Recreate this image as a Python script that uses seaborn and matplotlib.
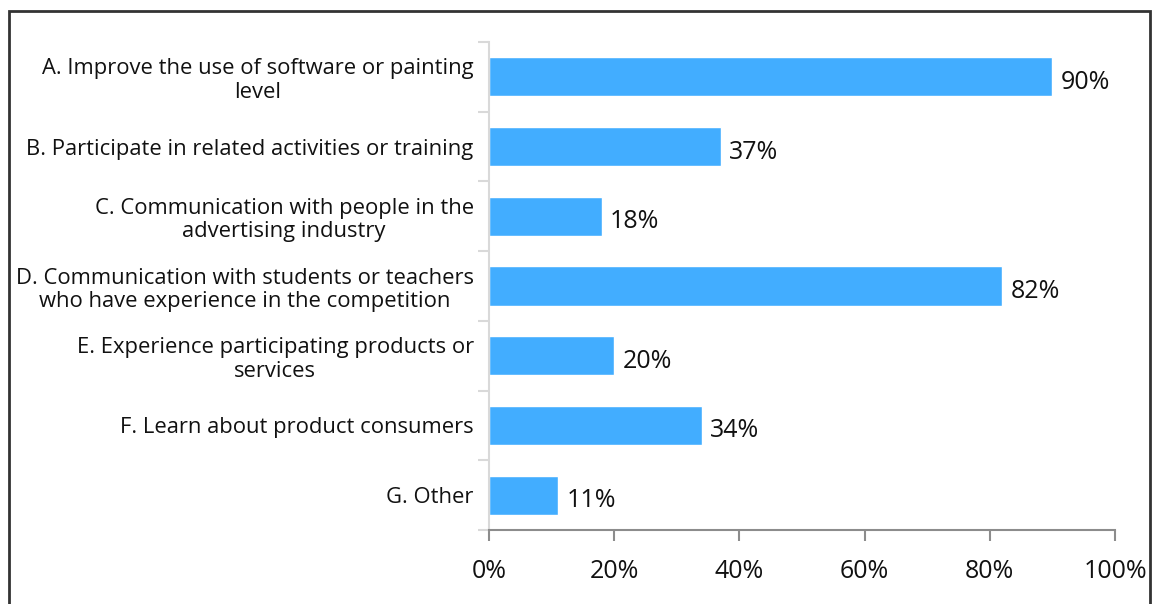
import matplotlib
matplotlib.use("Agg")
import matplotlib.pyplot as plt
import seaborn as sns
import pandas as pd
from matplotlib.patches import Rectangle

categories = [
    "A. Improve the use of software or painting\nlevel",
    "B. Participate in related activities or training",
    "C. Communication with people in the\nadvertising industry",
    "D. Communication with students or teachers\nwho have experience in the competition",
    "E. Experience participating products or\nservices",
    "F. Learn about product consumers",
    "G. Other",
]
values = [90, 37, 18, 82, 20, 34, 11]
x_ticks = [0, 20, 40, 60, 80, 100]
x_tick_labels = ["0%", "20%", "40%", "60%", "80%", "100%"]

sns.set_theme(style="white")
plt.rcParams["font.family"] = ["Open Sans", "DejaVu Sans"]

df = pd.DataFrame({"option": categories, "share": values})

fig = plt.figure(figsize=(11.54, 6.04), dpi=100)
ax = fig.add_axes([489 / 1154, 1 - 530 / 604, (1115 - 489) / 1154, (530 - 42) / 604])

sns.barplot(data=df, y="option", x="share", orient="h", color="#42ADFF",
            saturation=1, width=0.56, ax=ax)

ax.set_xlim(0, 100)
ax.set_ylim(len(categories) - 0.5, -0.5)
ax.set_xlabel("")
ax.set_ylabel("")

ax.set_xticks(x_ticks)
ax.set_xticklabels(x_tick_labels, fontsize=18, color="#111111")
ax.set_yticks(range(len(categories)))
ax.set_yticklabels(categories, fontsize=15.8, color="#111111", ha="right",
                   multialignment="center", linespacing=1.15)
ax.tick_params(axis="y", length=0, pad=11)
ax.tick_params(axis="x", length=8, width=1.5, color="#8c8c8c", pad=13, direction="out")
ax.xaxis.set_ticks_position("bottom")

# minor ticks on the category axis mark the boundaries between bars
ax.set_yticks([i - 0.5 for i in range(len(categories) + 1)], minor=True)
ax.tick_params(axis="y", which="minor", length=8, width=1.5, color="#d9d9d9", left=True)

for side in ["top", "right"]:
    ax.spines[side].set_visible(False)
ax.spines["left"].set_color("#d9d9d9")
ax.spines["left"].set_linewidth(1.5)
ax.spines["bottom"].set_color("#8c8c8c")
ax.spines["bottom"].set_linewidth(1.5)

for i, v in enumerate(values):
    ax.annotate(f"{v}%", xy=(v, i), xytext=(6, -4), textcoords="offset points",
                va="center", ha="left", fontsize=18, color="#111111")

fig.patches.append(Rectangle((9 / 1154, -0.05), (1150 - 9) / 1154, 1.05 - 11 / 604,
                             transform=fig.transFigure, fill=False,
                             edgecolor="#333333", linewidth=2))

fig.savefig("out.png", dpi=100, facecolor="white")
